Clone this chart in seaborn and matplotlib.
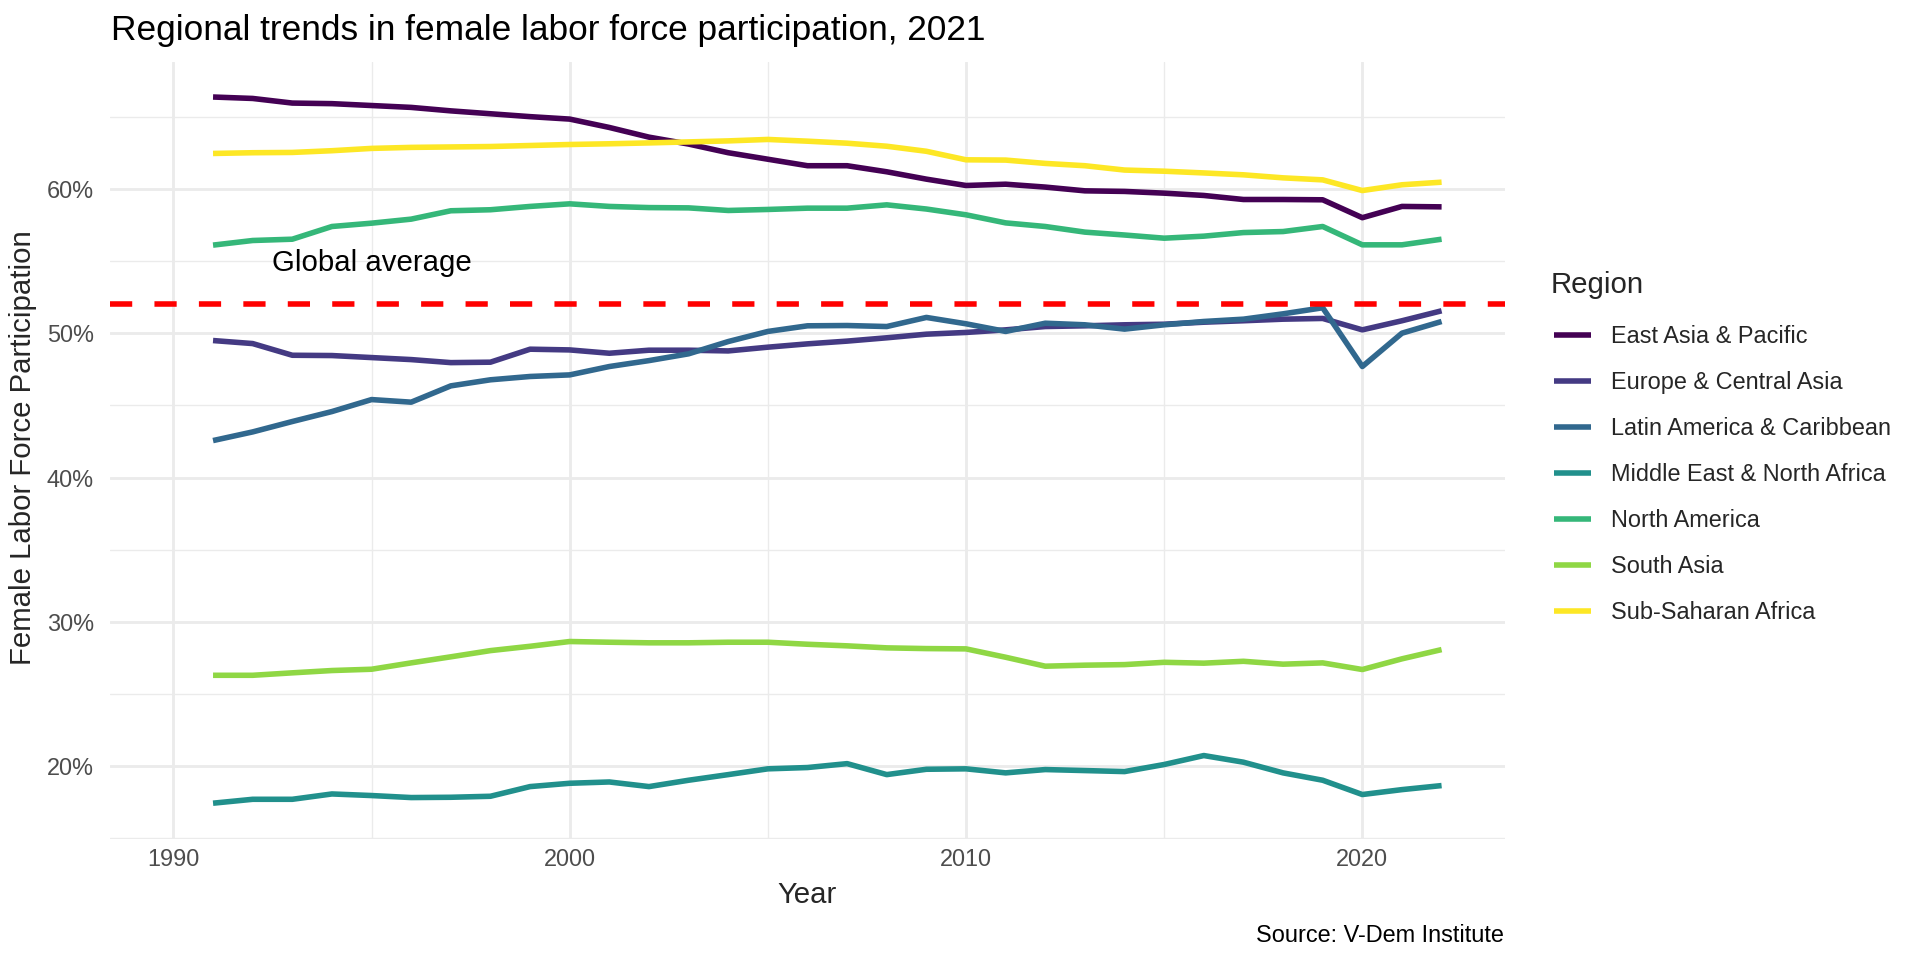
import numpy as np
import pandas as pd
import matplotlib
matplotlib.use("Agg")
import matplotlib.pyplot as plt
from matplotlib.ticker import FixedLocator, FuncFormatter
import seaborn as sns

# ---------------- data ----------------
years = list(range(1991, 2023))

regions = [
    "East Asia & Pacific",
    "Europe & Central Asia",
    "Latin America & Caribbean",
    "Middle East & North Africa",
    "North America",
    "South Asia",
    "Sub-Saharan Africa",
]

east_asia = [66.36, 66.26, 65.94, 65.90, 65.77, 65.64, 65.40, 65.20, 65.00, 64.83,
             64.25, 63.58, 63.10, 62.50, 62.05, 61.60, 61.60, 61.18, 60.67, 60.23,
             60.32, 60.12, 59.86, 59.82, 59.70, 59.54, 59.26, 59.26, 59.24, 58.00,
             58.78, 58.75]
europe = [49.49, 49.28, 48.47, 48.45, 48.31, 48.17, 47.96, 47.99, 48.89, 48.84,
          48.61, 48.82, 48.82, 48.77, 49.03, 49.26, 49.45, 49.68, 49.93, 50.05,
          50.23, 50.46, 50.51, 50.58, 50.62, 50.76, 50.86, 50.97, 51.02, 50.23,
          50.86, 51.55]
latin = [42.56, 43.16, 43.88, 44.57, 45.40, 45.22, 46.35, 46.77, 47.00, 47.11,
         47.69, 48.10, 48.57, 49.42, 50.12, 50.51, 50.53, 50.46, 51.09, 50.65,
         50.12, 50.69, 50.58, 50.28, 50.58, 50.81, 50.97, 51.34, 51.76, 47.69,
         50.00, 50.81]
mena = [17.44, 17.71, 17.71, 18.08, 17.97, 17.83, 17.85, 17.92, 18.59, 18.82,
        18.91, 18.59, 19.03, 19.42, 19.82, 19.91, 20.18, 19.42, 19.79, 19.82,
        19.54, 19.77, 19.70, 19.63, 20.12, 20.74, 20.28, 19.54, 19.03, 18.04,
        18.38, 18.66]
north_america = [56.10, 56.42, 56.51, 57.39, 57.62, 57.90, 58.48, 58.55, 58.78, 58.96,
                 58.78, 58.70, 58.68, 58.50, 58.57, 58.66, 58.66, 58.89, 58.60, 58.20,
                 57.64, 57.39, 57.00, 56.80, 56.58, 56.72, 56.97, 57.04, 57.39, 56.12,
                 56.12, 56.51]
south_asia = [26.30, 26.30, 26.47, 26.63, 26.72, 27.16, 27.58, 28.01, 28.31, 28.64,
              28.59, 28.55, 28.55, 28.59, 28.59, 28.45, 28.34, 28.20, 28.15, 28.13,
              27.55, 26.93, 27.00, 27.04, 27.20, 27.14, 27.27, 27.07, 27.16, 26.70,
              27.44, 28.08]
ssa = [62.45, 62.50, 62.52, 62.64, 62.80, 62.87, 62.90, 62.93, 63.00, 63.07,
       63.12, 63.18, 63.25, 63.32, 63.42, 63.30, 63.16, 62.95, 62.60, 62.01,
       61.99, 61.76, 61.60, 61.30, 61.22, 61.10, 60.97, 60.76, 60.62, 59.88,
       60.28, 60.46]

global_average = 52.0
x_breaks = [1990, 2000, 2010, 2020]
y_breaks = [20, 30, 40, 50, 60]

series = [east_asia, europe, latin, mena, north_america, south_asia, ssa]
df = pd.concat(
    [pd.DataFrame({"Year": years, "Value": vals, "Region": reg})
     for reg, vals in zip(regions, series)],
    ignore_index=True,
)

# ---------------- style ----------------
sns.set_theme(style="white")
plt.rcParams["font.family"] = ["Liberation Sans", "DejaVu Sans"]

palette = ["#440154", "#443A83", "#31688E", "#21908C", "#35B779", "#8FD744", "#FDE725"]

W, H = 1920, 960
fig = plt.figure(figsize=(19.2, 9.6), dpi=100)
ax = fig.add_axes([110 / W, 1 - 838.5 / H, (1505 - 110) / W, (838.5 - 61.7) / H])

base = 21.12       # 11pt rendered at 192 dpi, expressed at 100 dpi
small = base * 0.8
lw = 4.0

sns.lineplot(data=df, x="Year", y="Value", hue="Region", hue_order=regions,
             palette=palette, linewidth=lw, errorbar=None, ax=ax, legend=True,
             solid_capstyle="butt")

ax.axhline(global_average, color="red", linewidth=lw, linestyle=(0, (4, 4)),
           dash_capstyle="butt", zorder=5)
ax.text(1995, 54.34, "Global average", ha="center", va="baseline",
        fontsize=base, color="black", zorder=6)

# scales (ggplot-like 5% expansion)
vmin, vmax = df["Value"].min(), df["Value"].max()
pad = 0.05 * (vmax - vmin)
ax.set_ylim(vmin - pad, vmax + pad)
xpad = 0.05 * (2022 - 1990)
ax.set_xlim(1990 - xpad, 2022 + xpad)

ax.xaxis.set_major_locator(FixedLocator(x_breaks))
ax.xaxis.set_minor_locator(FixedLocator([1995, 2005, 2015]))
ax.yaxis.set_major_locator(FixedLocator(y_breaks))
ax.yaxis.set_minor_locator(FixedLocator([15, 25, 35, 45, 55, 65]))
ax.yaxis.set_major_formatter(FuncFormatter(lambda v, p: f"{v:.0f}%"))
ax.xaxis.set_major_formatter(FuncFormatter(lambda v, p: f"{v:.0f}"))

ax.grid(which="major", color="#EBEBEB", linewidth=2.05)
ax.grid(which="minor", color="#EBEBEB", linewidth=1.0)
ax.set_axisbelow(True)
for s in ax.spines.values():
    s.set_visible(False)
ax.tick_params(which="both", length=0)
ax.tick_params(axis="x", labelsize=small, labelcolor="#4D4D4D", pad=7.0)
ax.tick_params(axis="y", labelsize=small, labelcolor="#4D4D4D", pad=11.5)
ax.set_xlabel("")
ax.set_ylabel("")

# titles
fig.text(111 / W, 1 - 40 / H, "Regional trends in female labor force participation, 2021",
         fontsize=base * 1.2, ha="left", va="baseline", color="black")
fig.text(807.5 / W, 1 - 903.3 / H, "Year", fontsize=base, ha="center", va="baseline")
fig.text(23.0 / W, 1 - 448 / H, "Female Labor Force Participation", fontsize=base,
         rotation=90, ha="center", va="center")
fig.text(1504 / W, 1 - 941.7 / H, "Source: V-Dem Institute", fontsize=small,
         ha="right", va="baseline", color="black")

# legend
handles, labels = ax.get_legend_handles_labels()
if ax.get_legend():
    ax.get_legend().remove()
fig.text(1551 / W, 1 - 293 / H, "Region", fontsize=base, ha="left", va="baseline")
leg = fig.legend(handles, labels, loc="upper left",
                 bbox_to_anchor=(1554 / W, 1 - 325 / H),
                 frameon=False, fontsize=small, borderpad=0, borderaxespad=0,
                 handlelength=37 / 23.47, handletextpad=20 / 23.47, labelspacing=0.98)
for line in leg.get_lines():
    line.set_linewidth(lw)
    line.set_solid_capstyle("butt")

fig.savefig("out.png", dpi=100, facecolor="white")
